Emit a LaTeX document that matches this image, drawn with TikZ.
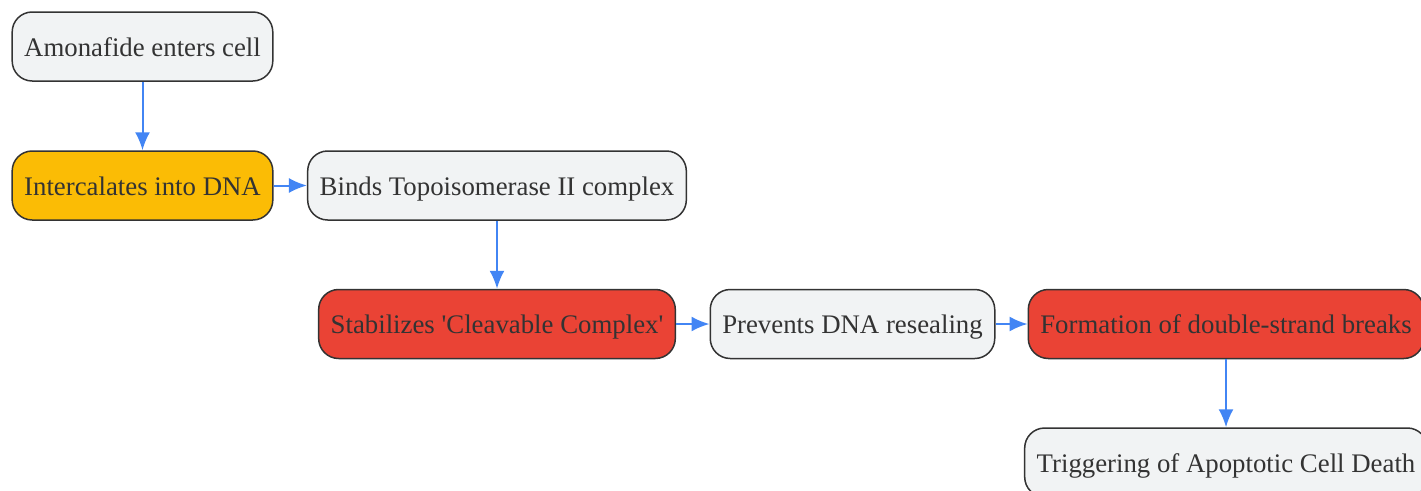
\documentclass[tikz,border=0pt]{standalone}
\usepackage{fontspec}
\setmainfont{Liberation Serif}
\usepackage{tikz}
\usetikzlibrary{arrows.meta,positioning}

\definecolor{boxgray}{HTML}{F1F3F4}
\definecolor{boxyellow}{HTML}{FBBC05}
\definecolor{boxred}{HTML}{EA4335}
\definecolor{linkblue}{HTML}{4285F4}
\definecolor{inkgray}{HTML}{333333}

\begin{document}
\begin{tikzpicture}[x=1pt,y=-1pt,
  stepbox/.style={draw=inkgray, line width=1.5pt, rounded corners=20pt, fill=boxgray,
    minimum height=69pt, inner xsep=12pt, text=inkgray, text height=24pt, text depth=5pt,
    font=\fontsize{26.8}{30}\selectfont, anchor=center},
  link/.style={draw=linkblue, line width=2pt, -{Latex[length=18pt,width=15pt]}}]

\useasboundingbox (0,0) rectangle (1421,490);

\node[stepbox] (amon) at (142.5,46.5) {Amonafide enters cell};
\node[stepbox, fill=boxyellow] (intercal) at (142.5,185.5) {Intercalates into DNA};
\node[stepbox] (binds) at (497,185.5) {Binds Topoisomerase II complex};
\node[stepbox, fill=boxred] (stab) at (497,324)
  {Stabilizes \textquotesingle Cleavable Complex\textquotesingle};
\node[stepbox] (prevent) at (852.5,324) {Prevents DNA resealing};
\node[stepbox, fill=boxred] (dsb) at (1226,324) {Formation of double-strand breaks};
\node[stepbox] (apopt) at (1226,462.5) {Triggering of Apoptotic Cell Death};

\draw[link] (amon) -- (intercal);
\draw[link] (intercal) -- (binds);
\draw[link] (binds) -- (stab);
\draw[link] (stab) -- (prevent);
\draw[link] (prevent) -- (dsb);
\draw[link] (dsb) -- (apopt);
\end{tikzpicture}
\end{document}
